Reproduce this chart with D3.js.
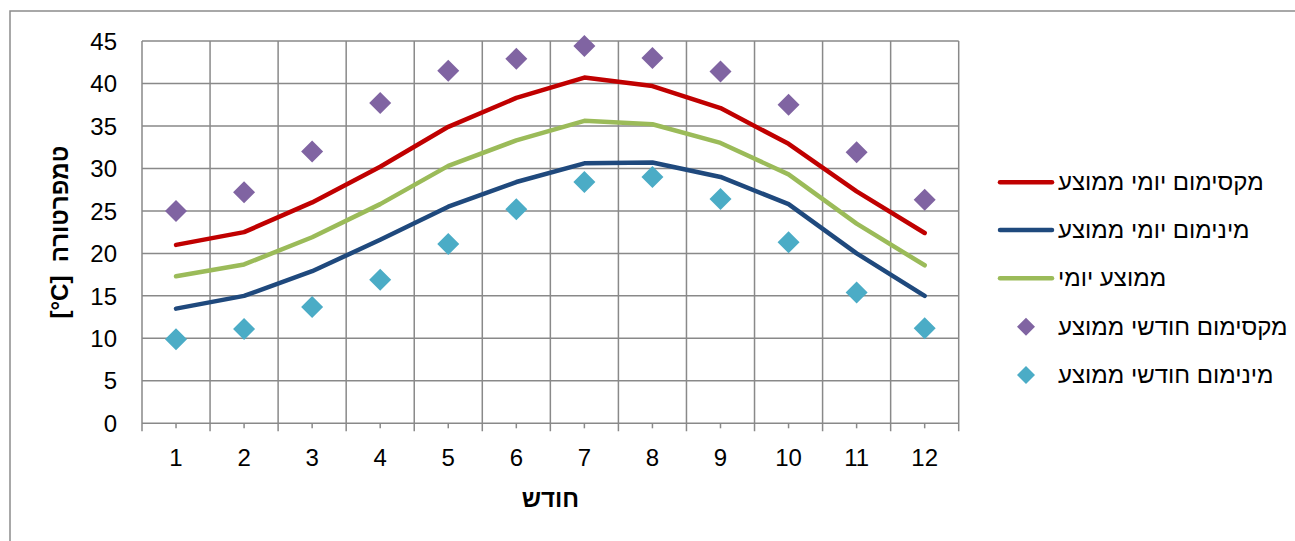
<!DOCTYPE html>
<html><head><meta charset="utf-8">
<script src="https://cdn.jsdelivr.net/npm/d3@7"></script>
<style>
html,body{margin:0;padding:0;background:#fff;}
svg{display:block;font-family:"Liberation Sans",Arial,sans-serif;}
</style></head>
<body>
<svg id="chart" width="1295" height="541"></svg>
<script>
const months = [1,2,3,4,5,6,7,8,9,10,11,12];
const maxDaily   = [21.0, 22.5, 26.0, 30.2, 34.9, 38.3, 40.7, 39.7, 37.1, 32.9, 27.3, 22.4];
const minDaily   = [13.5, 15.0, 17.9, 21.6, 25.5, 28.4, 30.6, 30.7, 29.0, 25.8, 20.0, 15.0];
const avgDaily   = [17.3, 18.7, 21.9, 25.8, 30.3, 33.3, 35.6, 35.2, 33.0, 29.3, 23.5, 18.6];
const maxMonthly = [25.0, 27.2, 32.0, 37.7, 41.5, 42.9, 44.4, 43.0, 41.4, 37.5, 31.9, 26.3];
const minMonthly = [9.9, 11.1, 13.7, 16.9, 21.1, 25.2, 28.4, 29.0, 26.4, 21.3, 15.4, 11.2];
const yTicks = [0,5,10,15,20,25,30,35,40,45];
const seriesNames = ["מקסימום יומי ממוצע","מינימום יומי ממוצע","ממוצע יומי","מקסימום חודשי ממוצע","מינימום חודשי ממוצע"];
const xTitle = "חודש";
const yTitle = "טמפרטורה  \u200E[°C]\u200E";

const svg = d3.select("#chart");
const L = 142, R = 958.7, T = 41, B = 423.3;
const grid = "#898989";

// outer border
svg.append("rect").attr("x",10).attr("y",11).attr("width",1300).attr("height",560)
  .attr("fill","none").attr("stroke","#8c8c8c").attr("stroke-width",1.5);

const x = d3.scaleBand().domain(months).range([L,R]).padding(0);
const y = d3.scaleLinear().domain([0,45]).range([B,T]);
const cx = d => x(d) + x.bandwidth()/2;

// horizontal grid
svg.append("g").selectAll("line").data(yTicks).join("line")
  .attr("x1",L).attr("x2",R).attr("y1",d=>y(d)).attr("y2",d=>y(d))
  .attr("stroke",grid).attr("stroke-width",1.5);
// vertical grid at band boundaries
const bounds = months.map(m=>x(m)).concat([x(12)+x.bandwidth()]);
svg.append("g").selectAll("line").data(bounds).join("line")
  .attr("x1",d=>d).attr("x2",d=>d).attr("y1",T).attr("y2",B+8)
  .attr("stroke",grid).attr("stroke-width",1.5);
// minor ticks at centers
svg.append("g").selectAll("line").data(months).join("line")
  .attr("x1",d=>cx(d)).attr("x2",d=>cx(d)).attr("y1",B).attr("y2",B+5)
  .attr("stroke",grid).attr("stroke-width",1.5);

// y labels
svg.append("g").selectAll("text").data(yTicks).join("text")
  .attr("x",117).attr("y",d=>y(d)).attr("dy","0.36em")
  .attr("text-anchor","end").attr("font-size",24).attr("fill","#000").text(d=>d);
// x labels
svg.append("g").selectAll("text").data(months).join("text")
  .attr("x",d=>cx(d)).attr("y",466)
  .attr("text-anchor","middle").attr("font-size",24).attr("fill","#000").text(d=>d);

// axis titles
svg.append("text").attr("x",(L+R)/2).attr("y",507).attr("text-anchor","middle")
  .attr("font-size",24).attr("font-weight","bold").text(xTitle);
svg.append("text").attr("transform",`translate(68,${(T+B)/2}) rotate(-90)`)
  .attr("text-anchor","middle").attr("font-size",24).attr("font-weight","bold")
  .attr("direction","rtl").style("direction","rtl").style("unicode-bidi","embed")
  .style("white-space","pre")
  .text(yTitle);

const lineColors = ["#C00000","#1F497D","#9BBB59"];
const lineData = [maxDaily,minDaily,avgDaily];
const line = d3.line().x((d,i)=>cx(months[i])).y(d=>y(d));
lineData.forEach((arr,k)=>{
  svg.append("path").datum(arr).attr("d",line).attr("fill","none")
    .attr("stroke",lineColors[k]).attr("stroke-width",4.5)
    .attr("stroke-linecap","round").attr("stroke-linejoin","round");
});
const markColors = ["#8064A2","#4BACC6"];
const diamond = d3.symbol().type(d3.symbolSquare).size(2*11*11);
[maxMonthly,minMonthly].forEach((arr,k)=>{
  svg.append("g").selectAll("path").data(arr).join("path")
    .attr("d",diamond)
    .attr("transform",(d,i)=>`translate(${cx(months[i])},${y(d)}) rotate(45)`)
    .attr("fill",markColors[k]);
});

// legend
const legY = [182.3,230,278.3,326.7,375];
const lg = svg.append("g");
seriesNames.forEach((name,i)=>{
  if(i<3){
    lg.append("line").attr("x1",1000).attr("x2",1052).attr("y1",legY[i]).attr("y2",legY[i])
      .attr("stroke",lineColors[i]).attr("stroke-width",4.5).attr("stroke-linecap","round");
  } else {
    lg.append("path").attr("d",d3.symbol().type(d3.symbolSquare).size(2*9*9))
      .attr("transform",`translate(1026,${legY[i]}) rotate(45)`).attr("fill",markColors[i-3]);
  }
  lg.append("text").attr("x",1058).attr("y",legY[i]+8).attr("font-size",24)
    .attr("text-anchor","start").attr("fill","#000").text(name);
});
</script>
</body></html>
